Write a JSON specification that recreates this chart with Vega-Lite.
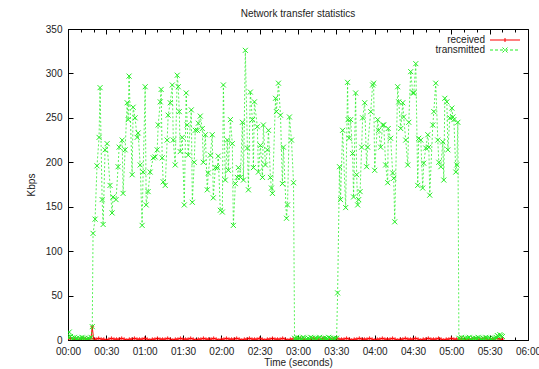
{
  "$schema": "https://vega.github.io/schema/vega-lite/v6.json",
  "width": 460,
  "height": 311,
  "autosize": {"type": "none"},
  "padding": {"left": 68, "top": 29, "right": 11, "bottom": 29},
  "background": "white",
  "title": {"text": "Network transfer statistics", "fontSize": 10, "fontWeight": "normal", "font": "Liberation Sans", "color": "#222", "offset": 5},
  "config": {
    "view": {"stroke": "#000", "strokeWidth": 1},
    "axis": {"grid": false, "labelFont": "Liberation Sans", "labelFontSize": 10, "labelColor": "#222", "titleFont": "Liberation Sans", "titleFontSize": 10, "titleFontWeight": "normal", "titleColor": "#222", "domainColor": "#000", "tickColor": "#000", "tickWidth": 1}
  },
  "datasets": {
    "received": [
      {"t":0,"kbps":1},{"t":2,"kbps":2},{"t":4,"kbps":1},{"t":6,"kbps":1},{"t":8,"kbps":0},{"t":10,"kbps":1},{"t":12,"kbps":2},{"t":14,"kbps":1},{"t":16,"kbps":1},{"t":18,"kbps":2},{"t":19,"kbps":15},{"t":20,"kbps":1},{"t":22,"kbps":1},{"t":24,"kbps":2},{"t":26,"kbps":1},{"t":28,"kbps":1},{"t":30,"kbps":0},{"t":32,"kbps":1},{"t":34,"kbps":2},{"t":36,"kbps":1},{"t":38,"kbps":1},{"t":40,"kbps":1},{"t":42,"kbps":2},{"t":44,"kbps":1},{"t":46,"kbps":0},{"t":48,"kbps":1},{"t":50,"kbps":1},{"t":52,"kbps":2},{"t":54,"kbps":1},{"t":56,"kbps":1},{"t":58,"kbps":1},{"t":60,"kbps":2},{"t":62,"kbps":1},{"t":64,"kbps":0},{"t":66,"kbps":1},{"t":68,"kbps":1},{"t":70,"kbps":2},{"t":72,"kbps":1},{"t":74,"kbps":1},{"t":76,"kbps":1},{"t":78,"kbps":2},{"t":80,"kbps":1},{"t":82,"kbps":0},{"t":84,"kbps":1},{"t":86,"kbps":1},{"t":88,"kbps":2},{"t":90,"kbps":1},{"t":92,"kbps":1},{"t":94,"kbps":1},{"t":96,"kbps":2},{"t":98,"kbps":1},{"t":100,"kbps":0},{"t":102,"kbps":1},{"t":104,"kbps":1},{"t":106,"kbps":2},{"t":108,"kbps":1},{"t":110,"kbps":1},{"t":112,"kbps":1},{"t":114,"kbps":2},{"t":116,"kbps":1},{"t":118,"kbps":0},{"t":120,"kbps":1},{"t":122,"kbps":1},{"t":124,"kbps":2},{"t":126,"kbps":1},{"t":128,"kbps":1},{"t":130,"kbps":1},{"t":132,"kbps":2},{"t":134,"kbps":1},{"t":136,"kbps":0},{"t":138,"kbps":1},{"t":140,"kbps":1},{"t":142,"kbps":2},{"t":144,"kbps":1},{"t":146,"kbps":1},{"t":148,"kbps":1},{"t":150,"kbps":2},{"t":152,"kbps":1},{"t":154,"kbps":0},{"t":156,"kbps":1},{"t":158,"kbps":1},{"t":160,"kbps":2},{"t":162,"kbps":1},{"t":164,"kbps":1},{"t":166,"kbps":1},{"t":168,"kbps":2},{"t":170,"kbps":1},{"t":172,"kbps":0},{"t":174,"kbps":1},{"t":176,"kbps":1},{"t":178,"kbps":1},{"t":180,"kbps":1},{"t":182,"kbps":2},{"t":184,"kbps":1},{"t":186,"kbps":0},{"t":188,"kbps":1},{"t":190,"kbps":1},{"t":192,"kbps":2},{"t":194,"kbps":1},{"t":196,"kbps":1},{"t":198,"kbps":1},{"t":200,"kbps":2},{"t":202,"kbps":1},{"t":204,"kbps":0},{"t":206,"kbps":1},{"t":208,"kbps":1},{"t":210,"kbps":2},{"t":212,"kbps":1},{"t":214,"kbps":1},{"t":216,"kbps":1},{"t":218,"kbps":2},{"t":220,"kbps":1},{"t":222,"kbps":0},{"t":224,"kbps":1},{"t":226,"kbps":1},{"t":228,"kbps":2},{"t":230,"kbps":1},{"t":232,"kbps":1},{"t":234,"kbps":1},{"t":236,"kbps":2},{"t":238,"kbps":1},{"t":240,"kbps":0},{"t":242,"kbps":1},{"t":244,"kbps":1},{"t":246,"kbps":2},{"t":248,"kbps":1},{"t":250,"kbps":1},{"t":252,"kbps":1},{"t":254,"kbps":2},{"t":256,"kbps":1},{"t":258,"kbps":0},{"t":260,"kbps":1},{"t":262,"kbps":1},{"t":264,"kbps":2},{"t":266,"kbps":1},{"t":268,"kbps":1},{"t":270,"kbps":1},{"t":272,"kbps":2},{"t":274,"kbps":1},{"t":276,"kbps":0},{"t":278,"kbps":1},{"t":280,"kbps":1},{"t":282,"kbps":2},{"t":284,"kbps":1},{"t":286,"kbps":1},{"t":288,"kbps":1},{"t":290,"kbps":2},{"t":292,"kbps":1},{"t":294,"kbps":0},{"t":296,"kbps":1},{"t":298,"kbps":1},{"t":300,"kbps":2},{"t":302,"kbps":1},{"t":304,"kbps":1},{"t":306,"kbps":1},{"t":308,"kbps":2},{"t":310,"kbps":1},{"t":312,"kbps":0},{"t":314,"kbps":1},{"t":316,"kbps":1},{"t":318,"kbps":2},{"t":320,"kbps":1},{"t":322,"kbps":1},{"t":324,"kbps":1},{"t":326,"kbps":2},{"t":328,"kbps":1},{"t":330,"kbps":0},{"t":332,"kbps":1},{"t":334,"kbps":1},{"t":336,"kbps":2},{"t":338,"kbps":1},{"t":340,"kbps":1}
    ],
    "transmitted": [
      {"t":0,"kbps":3},{"t":1,"kbps":9},{"t":2,"kbps":4},{"t":3,"kbps":2},{"t":4,"kbps":1},{"t":5,"kbps":3},{"t":6,"kbps":1},{"t":7,"kbps":2},{"t":8,"kbps":0},{"t":9,"kbps":2},{"t":10,"kbps":1},{"t":11,"kbps":3},{"t":12,"kbps":1},{"t":13,"kbps":2},{"t":14,"kbps":0},{"t":15,"kbps":1},{"t":16,"kbps":2},{"t":17,"kbps":1},{"t":18,"kbps":3},{"t":19,"kbps":15},
      {"t":19.6,"kbps":120},{"t":21.2,"kbps":136},{"t":22.7,"kbps":196},{"t":24.3,"kbps":228},{"t":25.1,"kbps":284},{"t":26.7,"kbps":158},{"t":27.5,"kbps":130},{"t":29.0,"kbps":214},{"t":30.6,"kbps":221},{"t":32.9,"kbps":174},{"t":34.5,"kbps":143},{"t":35.3,"kbps":161},{"t":37.6,"kbps":158},{"t":39.2,"kbps":195},{"t":40.0,"kbps":217},{"t":42.4,"kbps":225},{"t":43.1,"kbps":165},{"t":44.7,"kbps":214},{"t":46.3,"kbps":267},{"t":47.1,"kbps":248},{"t":47.8,"kbps":297},{"t":50.2,"kbps":186},{"t":51.0,"kbps":262},{"t":52.5,"kbps":250},{"t":54.1,"kbps":228},{"t":54.9,"kbps":233},{"t":56.5,"kbps":197},{"t":58.0,"kbps":129},{"t":58.8,"kbps":189},{"t":60.4,"kbps":285},{"t":61.2,"kbps":152},{"t":62.7,"kbps":167},{"t":64.3,"kbps":189},{"t":66.7,"kbps":205},{"t":68.2,"kbps":206},{"t":69.8,"kbps":214},{"t":70.6,"kbps":242},{"t":72.2,"kbps":268},{"t":72.9,"kbps":282},{"t":73.7,"kbps":205},{"t":74.5,"kbps":178},{"t":76.1,"kbps":174},{"t":77.6,"kbps":225},{"t":78.4,"kbps":253},{"t":80.0,"kbps":267},{"t":81.6,"kbps":287},{"t":82.4,"kbps":225},{"t":83.9,"kbps":197},{"t":85.5,"kbps":298},{"t":86.3,"kbps":285},{"t":87.1,"kbps":257},{"t":87.8,"kbps":212},{"t":89.4,"kbps":228},{"t":91.0,"kbps":152},{"t":92.5,"kbps":278},{"t":93.3,"kbps":242},{"t":94.1,"kbps":208},{"t":96.5,"kbps":259},{"t":97.3,"kbps":155},{"t":98.8,"kbps":200},{"t":99.6,"kbps":236},{"t":101.2,"kbps":236},{"t":102.0,"kbps":244},{"t":103.5,"kbps":252},{"t":105.1,"kbps":238},{"t":105.9,"kbps":200},{"t":107.5,"kbps":231},{"t":109.0,"kbps":169},{"t":109.8,"kbps":188},{"t":111.4,"kbps":208},{"t":112.9,"kbps":231},{"t":113.7,"kbps":160},{"t":115.3,"kbps":194},{"t":116.9,"kbps":194},{"t":117.6,"kbps":207},{"t":119.2,"kbps":146},{"t":120.8,"kbps":144},{"t":121.6,"kbps":287},{"t":123.1,"kbps":180},{"t":124.7,"kbps":225},{"t":125.5,"kbps":191},{"t":127.1,"kbps":248},{"t":128.6,"kbps":221},{"t":129.4,"kbps":129},{"t":131.0,"kbps":176},{"t":132.5,"kbps":183},{"t":133.3,"kbps":194},{"t":134.9,"kbps":183},{"t":136.5,"kbps":245},{"t":137.3,"kbps":180},{"t":138.8,"kbps":326},{"t":140.4,"kbps":216},{"t":141.2,"kbps":169},{"t":142.7,"kbps":279},{"t":144.3,"kbps":248},{"t":145.1,"kbps":194},{"t":145.9,"kbps":268},{"t":148.2,"kbps":240},{"t":149.0,"kbps":189},{"t":150.6,"kbps":219},{"t":152.2,"kbps":183},{"t":152.9,"kbps":242},{"t":154.5,"kbps":197},{"t":156.1,"kbps":214},{"t":156.9,"kbps":236},{"t":158.4,"kbps":183},{"t":159.2,"kbps":171},{"t":160.0,"kbps":165},{"t":162.4,"kbps":272},{"t":163.1,"kbps":257},{"t":164.7,"kbps":289},{"t":166.3,"kbps":253},{"t":167.8,"kbps":176},{"t":168.6,"kbps":217},{"t":171.0,"kbps":137},{"t":171.8,"kbps":152},{"t":173.3,"kbps":251},{"t":174.9,"kbps":225},{"t":176.5,"kbps":177},
      {"t":177.3,"kbps":2},{"t":178,"kbps":1},{"t":179,"kbps":3},{"t":180,"kbps":0},{"t":181,"kbps":2},{"t":182,"kbps":1},{"t":183,"kbps":1},{"t":184,"kbps":3},{"t":185,"kbps":2},{"t":186,"kbps":0},{"t":187,"kbps":1},{"t":188,"kbps":2},{"t":189,"kbps":1},{"t":190,"kbps":3},{"t":191,"kbps":2},{"t":192,"kbps":1},{"t":193,"kbps":0},{"t":194,"kbps":2},{"t":195,"kbps":1},{"t":196,"kbps":2},{"t":197,"kbps":3},{"t":198,"kbps":1},{"t":199,"kbps":0},{"t":200,"kbps":2},{"t":201,"kbps":1},{"t":202,"kbps":2},{"t":203,"kbps":1},{"t":204,"kbps":3},{"t":205,"kbps":2},{"t":206,"kbps":1},{"t":207,"kbps":0},{"t":208,"kbps":2},{"t":209,"kbps":1},{"t":210.2,"kbps":2},
      {"t":211.0,"kbps":53},{"t":212.5,"kbps":195},{"t":213.3,"kbps":158},{"t":214.9,"kbps":236},{"t":217.3,"kbps":149},{"t":218.8,"kbps":290},{"t":219.2,"kbps":248},{"t":220.0,"kbps":227},{"t":221.2,"kbps":248},{"t":222.7,"kbps":210},{"t":223.5,"kbps":161},{"t":225.1,"kbps":278},{"t":225.9,"kbps":186},{"t":226.7,"kbps":152},{"t":227.5,"kbps":158},{"t":228.6,"kbps":167},{"t":229.8,"kbps":217},{"t":230.6,"kbps":250},{"t":232.2,"kbps":267},{"t":233.7,"kbps":195},{"t":234.5,"kbps":217},{"t":236.9,"kbps":257},{"t":238.4,"kbps":287},{"t":239.2,"kbps":289},{"t":240.0,"kbps":191},{"t":242.4,"kbps":248},{"t":243.1,"kbps":236},{"t":244.7,"kbps":217},{"t":246.3,"kbps":242},{"t":247.1,"kbps":242},{"t":248.6,"kbps":197},{"t":250.2,"kbps":177},{"t":250.6,"kbps":238},{"t":252.5,"kbps":227},{"t":254.1,"kbps":188},{"t":254.9,"kbps":182},{"t":255.7,"kbps":133},{"t":258.0,"kbps":285},{"t":258.8,"kbps":268},{"t":260.4,"kbps":238},{"t":262.0,"kbps":267},{"t":262.7,"kbps":251},{"t":264.3,"kbps":225},{"t":265.9,"kbps":197},{"t":266.7,"kbps":245},{"t":268.2,"kbps":302},{"t":269.8,"kbps":278},{"t":270.6,"kbps":278},{"t":272.2,"kbps":311},{"t":273.7,"kbps":174},{"t":274.5,"kbps":227},{"t":276.1,"kbps":225},{"t":277.6,"kbps":171},{"t":278.4,"kbps":199},{"t":280.0,"kbps":216},{"t":281.6,"kbps":231},{"t":282.4,"kbps":217},{"t":283.1,"kbps":163},{"t":285.5,"kbps":242},{"t":286.3,"kbps":257},{"t":287.8,"kbps":289},{"t":289.4,"kbps":225},{"t":290.2,"kbps":200},{"t":291.8,"kbps":195},{"t":293.3,"kbps":223},{"t":294.1,"kbps":180},{"t":294.9,"kbps":272},{"t":296.5,"kbps":268},{"t":297.3,"kbps":214},{"t":298.8,"kbps":250},{"t":300.4,"kbps":261},{"t":301.2,"kbps":251},{"t":302.0,"kbps":248},{"t":303.5,"kbps":189},{"t":304.3,"kbps":197},{"t":305.1,"kbps":245},
      {"t":305.9,"kbps":2},{"t":307,"kbps":1},{"t":308,"kbps":3},{"t":309,"kbps":1},{"t":310,"kbps":0},{"t":311,"kbps":2},{"t":312,"kbps":1},{"t":313,"kbps":2},{"t":314,"kbps":3},{"t":315,"kbps":1},{"t":316,"kbps":0},{"t":317,"kbps":2},{"t":318,"kbps":1},{"t":319,"kbps":2},{"t":320,"kbps":1},{"t":321,"kbps":3},{"t":322,"kbps":2},{"t":323,"kbps":1},{"t":324,"kbps":0},{"t":325,"kbps":2},{"t":326,"kbps":1},{"t":327,"kbps":3},{"t":328,"kbps":2},{"t":329,"kbps":1},{"t":330,"kbps":2},{"t":331,"kbps":1},{"t":332,"kbps":0},{"t":333,"kbps":2},{"t":334,"kbps":1},{"t":335,"kbps":3},{"t":336,"kbps":5},{"t":337,"kbps":4},{"t":338,"kbps":6},{"t":339,"kbps":5},{"t":340,"kbps":4}
    ]
  },
  "layer": [
    {
      "data": {"name": "received"},
      "mark": {"type": "line", "strokeWidth": 1, "clip": true},
      "encoding": {
        "x": {"field": "t", "type": "quantitative", "scale": {"domain": [0, 360], "nice": false, "zero": false},
          "axis": {"orient": "bottom", "title": "Time (seconds)", "values": [0,10,20,30,40,50,60,70,80,90,100,110,120,130,140,150,160,170,180,190,200,210,220,230,240,250,260,270,280,290,300,310,320,330,340,350,360],
            "labelExpr": "datum.value % 30 === 0 ? utcFormat(datum.value * 1000, '%M:%S') : ''",
            "tickSize": {"condition": {"test": "datum.value % 30 === 0", "value": -5}, "value": -3},
            "labelPadding": 11, "labelOverlap": false, "labelFlush": false, "titlePadding": -1}},
        "y": {"field": "kbps", "type": "quantitative", "scale": {"domain": [0, 350], "nice": false},
          "axis": {"orient": "left", "title": "Kbps", "values": [0,50,100,150,200,250,300,350], "tickSize": -5, "labelPadding": 11, "titlePadding": 9, "labelFlush": false}},
        "color": {"datum": "received", "type": "nominal",
          "scale": {"domain": ["received", "transmitted"], "range": ["#ff0000", "#22ee22"]},
          "legend": {"title": null, "orient": "top-right", "offset": 6, "padding": 0, "rowPadding": 0,
            "labelFont": "Liberation Sans", "labelFontSize": 10, "labelColor": "#222",
            "symbolSize": 25, "symbolStrokeWidth": 1, "symbolFillColor": "transparent",
            "encode": {
              "symbols": {"update": {
                "shape": {"signal": "datum.value === 'received' ? 'M-6,0L6,0M0,-0.8L0,0.8' : 'M-6,0L6,0M-1,-1L1,1M-1,1L1,-1'"},
                "strokeDash": {"signal": "datum.value === 'transmitted' ? [3, 2] : [1, 0]"},
                "x": {"value": 78}
              }},
              "labels": {"update": {"x": {"value": 58}, "align": {"value": "right"}}}
            }}}
      }
    },
    {
      "data": {"name": "received"},
      "mark": {"type": "point", "shape": "M-1,0L1,0M0,-1L0,1", "filled": false, "size": 14, "strokeWidth": 1, "opacity": 0.8, "clip": true},
      "encoding": {
        "x": {"field": "t", "type": "quantitative", "scale": {"domain": [0, 360], "nice": false, "zero": false}, "axis": null},
        "y": {"field": "kbps", "type": "quantitative", "scale": {"domain": [0, 350], "nice": false}, "axis": null},
        "color": {"datum": "received", "type": "nominal"}
      }
    },
    {
      "data": {"name": "transmitted"},
      "mark": {"type": "line", "strokeWidth": 1, "strokeDash": [2, 2], "opacity": 0.75, "clip": true},
      "encoding": {
        "x": {"field": "t", "type": "quantitative", "scale": {"domain": [0, 360], "nice": false, "zero": false},
          "axis": {"orient": "top", "title": null, "labels": false, "domain": false, "values": [0,10,20,30,40,50,60,70,80,90,100,110,120,130,140,150,160,170,180,190,200,210,220,230,240,250,260,270,280,290,300,310,320,330,340,350,360],
            "tickSize": {"condition": {"test": "datum.value % 30 === 0", "value": -5}, "value": -3}}},
        "y": {"field": "kbps", "type": "quantitative", "scale": {"domain": [0, 350], "nice": false},
          "axis": {"orient": "right", "title": null, "labels": false, "domain": false, "values": [0,50,100,150,200,250,300,350], "tickSize": -5}},
        "color": {"datum": "transmitted", "type": "nominal"}
      }
    },
    {
      "data": {"name": "transmitted"},
      "mark": {"type": "point", "shape": "M-1,-1L1,1M-1,1L1,-1", "filled": false, "size": 25, "strokeWidth": 1, "opacity": 1, "clip": true},
      "encoding": {
        "x": {"field": "t", "type": "quantitative", "scale": {"domain": [0, 360], "nice": false, "zero": false}, "axis": null},
        "y": {"field": "kbps", "type": "quantitative", "scale": {"domain": [0, 350], "nice": false}, "axis": null},
        "color": {"datum": "transmitted", "type": "nominal"}
      }
    }
  ],
  "resolve": {"axis": {"x": "independent", "y": "independent"}}
}
